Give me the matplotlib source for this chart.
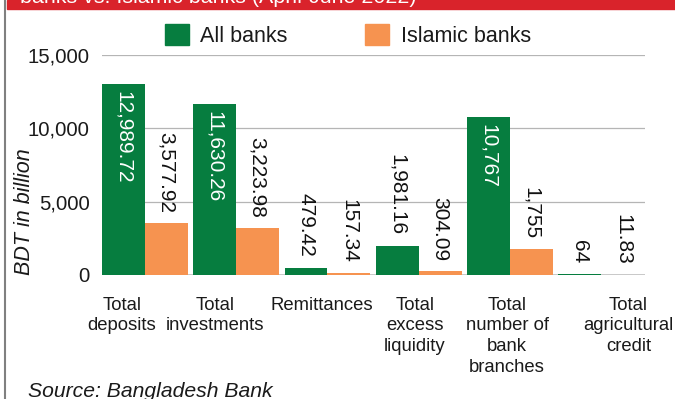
import matplotlib
matplotlib.use("Agg")
import matplotlib.pyplot as plt
from matplotlib.patches import Rectangle
from matplotlib.lines import Line2D
import numpy as np

plt.rcParams['font.family'] = ['Liberation Sans', 'DejaVu Sans']

categories = ["Total\ndeposits", "Total\ninvestments", "Remittances",
              "Total\nexcess\nliquidity", "Total\nnumber of\nbank\nbranches",
              "Total\nagricultural\ncredit"]
all_banks = [12989.72, 11630.26, 479.42, 1981.16, 10767, 64]
islamic_banks = [3577.92, 3223.98, 157.34, 304.09, 1755, 11.83]
all_labels = ["12,989.72", "11,630.26", "479.42", "1,981.16", "10,767", "64"]
islamic_labels = ["3,577.92", "3,223.98", "157.34", "304.09", "1,755", "11.83"]
series_names = ["All banks", "Islamic banks"]
yticks = [0, 5000, 10000, 15000]
ytick_labels = ["0", "5,000", "10,000", "15,000"]

# style
GREEN = "#067d3f"
ORANGE = "#f69350"
RED = "#d9232b"
label_shift = [-0.25, -0.23, -0.06, -0.04, -0.03, 0.30]

W, H = 675, 399
fig = plt.figure(figsize=(W / 100, H / 100), dpi=100)
ax = fig.add_axes([102 / W, 1 - 275 / H, (645 - 102) / W, (275 - 55) / H])

x = np.arange(len(categories))
bw = 0.47
b1 = ax.bar(x - bw / 2, all_banks, bw, color=GREEN, zorder=3, label=series_names[0])
b2 = ax.bar(x + bw / 2, islamic_banks, bw, color=ORANGE, zorder=3, label=series_names[1])

ax.set_xlim(-0.47, 5.48)
ax.set_ylim(0, 15000)
ax.set_yticks(yticks)
ax.set_yticklabels(ytick_labels, fontsize=14.6, color="#1a1a1a")
ax.set_xticks(x + np.array(label_shift))
ax.set_xticklabels(categories, fontsize=13.3, color="#1a1a1a", linespacing=1.3)
ax.tick_params(axis="both", length=0)
ax.tick_params(axis="y", pad=9)
ax.tick_params(axis="x", pad=15.5)
for s in ax.spines.values():
    s.set_visible(False)
ax.grid(axis="y", color="#b5b5b5", linewidth=0.9, zorder=0)
ax.axhline(0, color="#c4c4c4", linewidth=2, zorder=2)

# value labels
for rect, v, lab in zip(b1, all_banks, all_labels):
    cx = rect.get_x() + rect.get_width() / 2
    if v > 5000:
        ax.annotate(lab, (cx, v), xytext=(0, -5), textcoords="offset points",
                    rotation=270, ha="center", va="top", fontsize=15, color="white", zorder=4)
    else:
        ax.annotate(lab, (cx, v), xytext=(0, 8), textcoords="offset points",
                    rotation=270, ha="center", va="bottom", fontsize=15, color="#111111", zorder=4)
for rect, v, lab in zip(b2, islamic_banks, islamic_labels):
    cx = rect.get_x() + rect.get_width() / 2
    ax.annotate(lab, (cx, v), xytext=(0, 7), textcoords="offset points",
                rotation=270, ha="center", va="bottom", fontsize=15, color="#111111", zorder=4)

# legend
handles = [Rectangle((0, 0), 1, 1, color=GREEN), Rectangle((0, 0), 1, 1, color=ORANGE)]
fig.legend(handles, series_names, loc="center", bbox_to_anchor=(348 / W, 1 - 35.5 / H),
           ncol=2, frameon=False, fontsize=15.5, handlelength=1.1, handleheight=1.1,
           handletextpad=0.55, columnspacing=3.6, borderpad=0, labelcolor="#1a1a1a")

# y label
fig.text(25 / W, 1 - 211.5 / H, "BDT in billion", rotation=90, style="italic",
         fontsize=15.5, ha="center", va="center", color="#1a1a1a")

# banner
fig.patches.append(Rectangle((7 / W, 1 - 9 / H), 1 - 7 / W, 9 / H,
                             transform=fig.transFigure, color=RED, zorder=1))
fig.text(20 / W, 1 - 3 / H, "banks vs. Islamic banks (April-June 2022)",
         fontsize=15.4, color="white", ha="left", va="baseline", zorder=2)

# left border line
fig.lines.append(Line2D([5.5 / W, 5.5 / W], [0, 1], transform=fig.transFigure,
                        color="#808080", linewidth=1.5))

# source
fig.text(28 / W, 1 - 397 / H, "Source: Bangladesh Bank", style="italic",
         fontsize=15.2, ha="left", va="baseline", color="#1a1a1a")

fig.savefig("out.png", dpi=100)
